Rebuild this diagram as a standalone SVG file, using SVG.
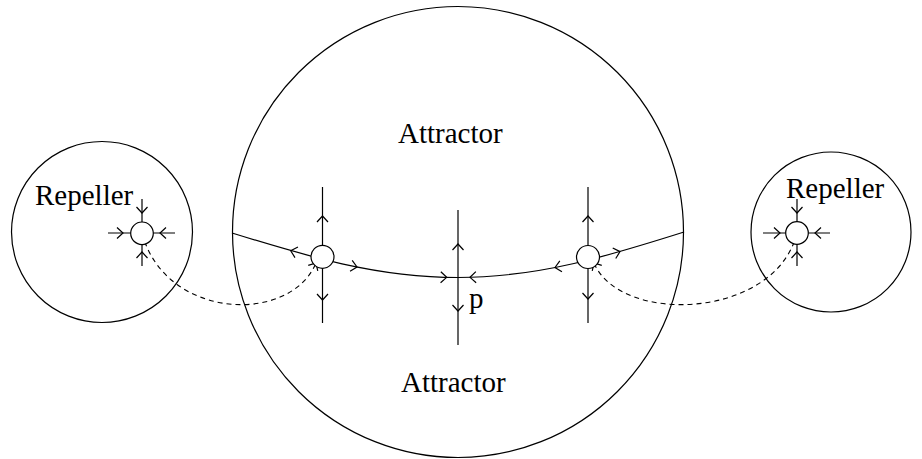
<svg xmlns="http://www.w3.org/2000/svg" xmlns:xlink="http://www.w3.org/1999/xlink" width="922" height="459" viewBox="0 0 922 459">
<style>
.ln{fill:none;stroke:#000;stroke-width:1.2}
.ds{fill:none;stroke:#000;stroke-width:1.1;stroke-dasharray:5,4}
.nd{fill:#fff;stroke:#000;stroke-width:1.2}
.t{font-family:"Liberation Serif","Times New Roman",serif;font-size:29px;fill:#000}
</style>
<defs>
<path id="ah" d="M-6,-5.5 L0,0 L-6,5.5" fill="none" stroke="#000" stroke-width="1.2"/>
</defs>
<rect width="922" height="459" fill="#fff"/>
<g id="attractor-region">
<circle class="ln" cx="458" cy="232" r="225.5"/>
<text class="t" x="398" y="143">Attractor</text>
<text class="t" x="401" y="392">Attractor</text>
</g>
<g id="repeller-left">
<circle class="ln" cx="102" cy="232" r="90.5"/>
<text class="t" x="35" y="205">Repeller</text>
</g>
<g id="repeller-right">
<circle class="ln" cx="831" cy="232" r="80"/>
<text class="t" x="786" y="198">Repeller</text>
</g>
<g id="connectors">
<path class="ln" d="M232,233 C305.6,255.8 376.5,277.5 458,277.5 C539.5,277.5 610.4,255.3 684,232"/>
<line class="ln" x1="322.5" y1="187" x2="322.5" y2="323"/>
<line class="ln" x1="458" y1="210" x2="458" y2="345"/>
<line class="ln" x1="588" y1="187" x2="588" y2="323"/>
<line class="ln" x1="142" y1="199" x2="142" y2="266"/>
<line class="ln" x1="108" y1="233" x2="175" y2="233"/>
<line class="ln" x1="797" y1="199" x2="797" y2="266"/>
<line class="ln" x1="763" y1="233" x2="830" y2="233"/>
<path class="ds" d="M142,233 C165,320 290,325 316,263"/>
<path class="ds" d="M797,233 C775,320 620,325 594,263"/>
<use href="#ah" transform="translate(316,263) rotate(-60)"/>
<use href="#ah" transform="translate(594,263) rotate(-120)"/>
</g>
<g id="node-left">
<circle class="nd" cx="322.5" cy="256.8" r="11.5"/>
</g>
<g id="node-right">
<circle class="nd" cx="588" cy="257" r="11.5"/>
</g>
<g id="repeller-node-left">
<circle class="nd" cx="142" cy="233.3" r="11.3"/>
</g>
<g id="repeller-node-right">
<circle class="nd" cx="797" cy="233" r="11.3"/>
</g>
<g id="arrowheads">
<use href="#ah" transform="translate(322.5,216) rotate(-90)"/>
<use href="#ah" transform="translate(322.5,300) rotate(90)"/>
<use href="#ah" transform="translate(290.7,250.7) rotate(195.8)"/>
<use href="#ah" transform="translate(357,267) rotate(11.3)"/>
<use href="#ah" transform="translate(458,244) rotate(-90)"/>
<use href="#ah" transform="translate(458,311) rotate(90)"/>
<use href="#ah" transform="translate(446.7,277.35) rotate(1.4)"/>
<use href="#ah" transform="translate(470,277.34) rotate(178.5)"/>
<use href="#ah" transform="translate(588,216) rotate(-90)"/>
<use href="#ah" transform="translate(588,299) rotate(90)"/>
<use href="#ah" transform="translate(555,267.5) rotate(168.8)"/>
<use href="#ah" transform="translate(620,251.6) rotate(-15.9)"/>
<use href="#ah" transform="translate(142,213) rotate(90)"/>
<use href="#ah" transform="translate(142,252) rotate(-90)"/>
<use href="#ah" transform="translate(123,233) rotate(0)"/>
<use href="#ah" transform="translate(160,233) rotate(180)"/>
<use href="#ah" transform="translate(797,213) rotate(90)"/>
<use href="#ah" transform="translate(797,252) rotate(-90)"/>
<use href="#ah" transform="translate(780,233) rotate(0)"/>
<use href="#ah" transform="translate(815,233) rotate(180)"/>
</g>
<text class="t" x="469" y="308">p</text>
</svg>
